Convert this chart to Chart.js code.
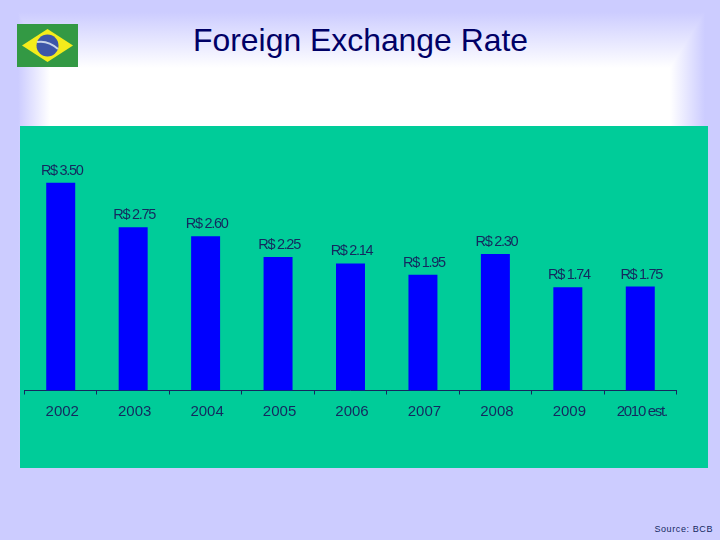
<!DOCTYPE html>
<html>
<head>
<meta charset="utf-8">
<title>Foreign Exchange Rate</title>
<script src="https://cdn.jsdelivr.net/npm/chart.js@4"></script>
<style>
  html, body { margin: 0; padding: 0; }
  body { width: 720px; height: 540px; background: #ccccff; position: relative; overflow: hidden; font-family: "Liberation Sans", Arial, sans-serif; }
  #glow {
    position: absolute; left: 0; top: 0; width: 720px; height: 468px;
    background-image:
      linear-gradient(to bottom, #ccccff 12px, #ffffff 68px),
      linear-gradient(to right, #ccccff 18px, #ffffff 50px),
      linear-gradient(to left, #ccccff 15px, #ffffff 50px);
    background-blend-mode: darken;
  }
  #title { position: absolute; left: 193px; top: 22px; font-size: 31.9px; line-height: 36px; color: #000066; white-space: nowrap; }
  #flag { position: absolute; left: 17px; top: 24px; }
  #source { position: absolute; right: 7px; top: 523px; font-size: 9px; line-height: 12px; letter-spacing: 0.6px; color: #14285f; }
</style>
</head>
<body>
<div id="glow"></div>
<svg id="flag" width="61" height="43" viewBox="0 0 61 43">
  <rect width="61" height="43" fill="#339944"/>
  <polygon points="5,21.5 30.5,5 56,21.5 30.5,38" fill="#f4ec1c"/>
  <circle cx="30.5" cy="21.5" r="11" fill="#3d56a8"/>
  <path d="M20 18 Q31 16 41 25" stroke="#c8d4e8" stroke-width="2" fill="none"/>
</svg>
<div id="title">Foreign Exchange Rate</div>
<canvas id="rateChart" width="688" height="342" style="position:absolute;left:20px;top:126px"></canvas>
<div id="source">Source: BCB</div>
<script>
const years = ['2002', '2003', '2004', '2005', '2006', '2007', '2008', '2009', '2010 est.']
const rates = [3.50, 2.75, 2.60, 2.25, 2.14, 1.95, 2.30, 1.74, 1.75]

const textColor = '#14285f'
const fontFamily = '"Liberation Sans", Arial, sans-serif'
const lastYear = years.length - 1

// labels above the bars, squeezed together like in the slide
// the last year label is squeezed too, ticks can't do letter spacing on their own
const barLabels = {
  id: 'barLabels',
  afterDatasetsDraw(chart) {
    const ctx = chart.ctx
    const meta = chart.getDatasetMeta(0)
    const xAxis = chart.scales.x
    ctx.save()
    ctx.fillStyle = textColor
    ctx.textAlign = 'center'
    ctx.textBaseline = 'middle'
    ctx.font = '14.5px ' + fontFamily
    ctx.letterSpacing = '-1.3px'
    meta.data.forEach((bar, i) => {
      ctx.fillText('R$ ' + rates[i].toFixed(2), bar.x + 1, bar.y - 12)
    })
    ctx.font = '15px ' + fontFamily
    ctx.fillText(years[lastYear], xAxis.getPixelForTick(lastYear) + 1.5, xAxis.top + 21)
    ctx.restore()
  }
}

const panelFill = {
  id: 'panelFill',
  beforeDraw(chart) {
    chart.ctx.save()
    chart.ctx.fillStyle = '#00cc99'
    chart.ctx.fillRect(0, 0, chart.width, chart.height)
    chart.ctx.restore()
  }
}

new Chart(document.getElementById('rateChart'), {
  type: 'bar',
  data: {
    labels: years,
    datasets: [{
      data: rates,
      backgroundColor: '#0000ff',
      barPercentage: 0.4,
      categoryPercentage: 1
    }]
  },
  plugins: [panelFill, barLabels],
  options: {
    responsive: false,
    animation: false,
    layout: { padding: { left: 4.5, right: 31.5, top: 27, bottom: 0 } },
    plugins: { legend: { display: false }, tooltip: { enabled: false } },
    scales: {
      x: {
        afterFit(scale) { scale.height = 77.5 },
        border: { color: textColor, width: 1 },
        grid: { drawOnChartArea: false, color: textColor, tickLength: 4 },
        ticks: {
          color: textColor,
          maxRotation: 0,
          autoSkip: false,
          padding: 8,
          labelOffset: 1.5,
          font: { family: fontFamily, size: 15 },
          callback(value, i) {
            return i === lastYear ? '' : this.getLabelForValue(value)
          }
        }
      },
      y: { display: false, min: 0, max: 4 }
    }
  }
})
</script>
</body>
</html>
